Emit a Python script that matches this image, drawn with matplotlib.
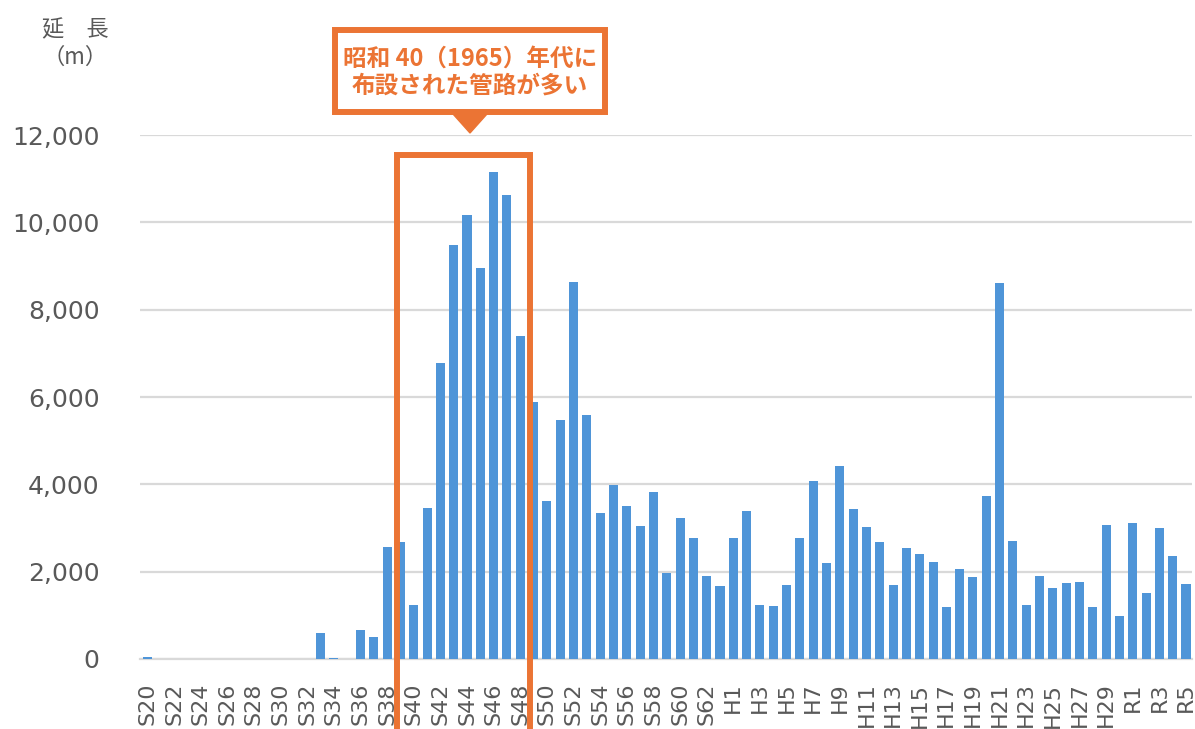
import matplotlib
matplotlib.use("Agg")
import matplotlib.pyplot as plt
from matplotlib.patches import Rectangle, Polygon

plt.rcParams['font.family'] = ['DejaVu Sans', 'Noto Sans CJK JP']

showa = [f"S{i}" for i in range(20, 64)]
heisei = [f"H{i}" for i in range(1, 31)]
reiwa = [f"R{i}" for i in range(1, 6)]
categories = showa + heisei + reiwa

values_showa = [50, 0, 0, 0, 0, 0, 0, 0, 0, 0, 0, 0, 0, 600, 20, 0, 655, 508, 2554, 2685,
                1244, 3447, 6770, 9472, 10168, 8956, 11158, 10626, 7392, 5886,
                3627, 5473, 8626, 5595, 3351, 3992, 3496, 3046, 3824, 1962,
                3229, 2779, 1901, 1664]
values_heisei = [2779, 3382, 1237, 1214, 1695, 2779, 4069, 2198, 4420, 3443,
                 3031, 2687, 1702, 2542, 2405, 2214, 1183, 2061, 1878, 3725,
                 8603, 2702, 1237, 1908, 1634, 1740, 1763, 1198, 3069, 985]
values_reiwa = [3107, 1519, 3000, 2359, 1718]
values = values_showa + values_heisei + values_reiwa

yticks = [0, 2000, 4000, 6000, 8000, 10000, 12000]
ylabel_text = "延　長\n（m）"
callout_text = "昭和 40（1965）年代に\n布設された管路が多い"
highlight_first, highlight_last = "S40", "S48"

BLUE = "#4F95D8"
ORANGE = "#EB7434"
GRID = "#D9D9D9"
TXT = "#595959"
CJK = ['Noto Sans CJK JP', 'DejaVu Sans']

fig = plt.figure(figsize=(11.95, 7.29), dpi=100)
ax = fig.add_axes([140/1195, 1-659/729, (1192-140)/1195, (659-135)/729])

x = list(range(len(categories)))
ax.bar(x, values, width=0.68, color=BLUE, zorder=3)
ax.set_xlim(-0.56, len(categories) - 1 + 0.45)
ax.set_ylim(0, 12000)
ax.set_yticks(yticks)
ax.set_yticklabels([f"{v:,}" for v in yticks], fontsize=18, color=TXT,
                   family='DejaVu Sans')
ax.yaxis.grid(True, color=GRID, linewidth=1.6, zorder=0)
ax.set_axisbelow(True)
ax.set_xticks(x[::2])
ax.set_xticklabels(categories[::2], rotation=90, fontsize=16, color=TXT,
                   va='top', family='DejaVu Sans')
ax.tick_params(axis='y', length=0, pad=29)
ax.tick_params(axis='x', length=0, pad=17)
for s in ['top', 'right', 'left']:
    ax.spines[s].set_visible(False)
ax.spines['bottom'].set_color(GRID)
ax.spines['bottom'].set_linewidth(1.6)
ax.spines['bottom'].set_zorder(1)

# highlight rectangle around S40..S48
i0 = categories.index(highlight_first)
i1 = categories.index(highlight_last)
rect = Rectangle((i0 - 1.25, -2000), (i1 - i0) + 1.99, 11542 + 2000,
                 fill=False, edgecolor=ORANGE, linewidth=4.3, zorder=5,
                 clip_on=False)
ax.add_patch(rect)

# callout box (figure pixels)
W, H = 1195, 729
def fx(px): return px / W
def fy(py): return 1 - py / H
box = Rectangle((fx(335), fy(112)), fx(605) - fx(335), fy(30) - fy(112),
                transform=fig.transFigure, facecolor='white', edgecolor=ORANGE,
                linewidth=4.3, zorder=10)
fig.patches.append(box)
tri = Polygon([(fx(453), fy(114)), (fx(487), fy(114)), (fx(470), fy(133))],
              closed=True, transform=fig.transFigure, facecolor=ORANGE,
              edgecolor=ORANGE, zorder=10)
fig.patches.append(tri)
fig.text(fx(470), fy(72), callout_text, ha='center', va='center', fontsize=17,
         color=ORANGE, family=CJK, fontweight='bold',
         linespacing=1.15, zorder=11)

fig.text(fx(75), fy(44), ylabel_text, ha='center', va='center', fontsize=16,
         color=TXT, family=CJK, linespacing=1.25)

fig.savefig("out.png", dpi=100)
